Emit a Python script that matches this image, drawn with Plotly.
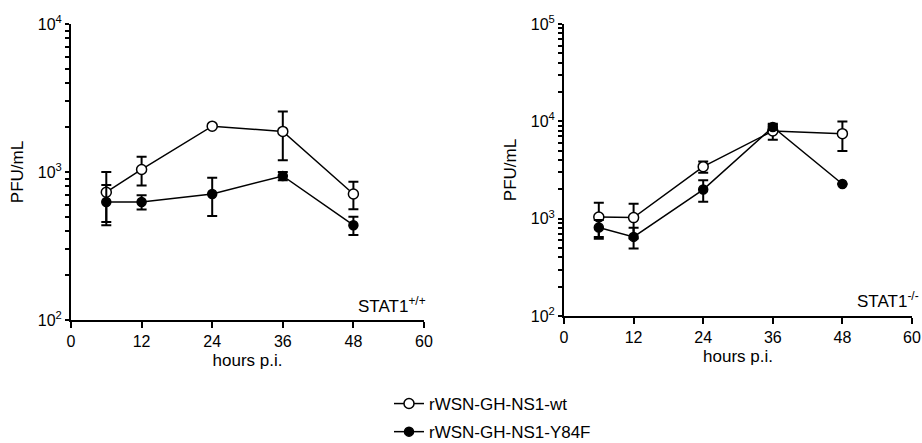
import plotly.graph_objects as go
from plotly.subplots import make_subplots

hours = [6, 12, 24, 36, 48]

# STAT1+/+ panel
wt_pos = [730, 1040, 2040, 1880, 710]
wt_pos_err = [270, 230, 40, 680, 150]
mut_pos = [627, 627, 710, 940, 437]
mut_pos_err = [190, 70, 205, 60, 62]

# STAT1-/- panel
wt_neg = [1040, 1025, 3420, 7960, 7470]
wt_neg_err = [420, 400, 450, 1500, 2500]
mut_neg = [810, 650, 1990, 8750, 2270]
mut_neg_err = [160, 157, 495, 500, 0]

x_ticks = [0, 12, 24, 36, 48, 60]
series_names = ["rWSN-GH-NS1-wt", "rWSN-GH-NS1-Y84F"]
panel_labels = ["STAT1<sup>+/+</sup>", "STAT1<sup>-/-</sup>"]

FONT = "Liberation Sans, Arial, sans-serif"

fig = make_subplots(rows=1, cols=2)

def add_series(col, y, err, name, filled, show):
    fig.add_trace(go.Scatter(
        x=hours, y=y, name=name, mode="lines+markers",
        showlegend=show, legendgroup=name,
        line=dict(color="black", width=1.5),
        marker=dict(symbol="circle", size=10 if not filled else 9,
                    color="black" if filled else "white",
                    line=dict(color="black", width=1.5)),
        error_y=dict(type="data", array=err, visible=True,
                     color="black", thickness=2, width=5),
    ), row=1, col=col)

add_series(1, wt_pos, wt_pos_err, series_names[0], False, True)
add_series(1, mut_pos, mut_pos_err, series_names[1], True, True)
add_series(2, wt_neg, wt_neg_err, series_names[0], False, False)
add_series(2, mut_neg, mut_neg_err, series_names[1], True, False)

def log_ticks(lo, hi):
    vals, text = [], []
    for e in range(lo, hi + 1):
        for m in range(1, 10):
            if e == hi and m > 1:
                break
            vals.append(m * 10 ** e)
            text.append(f"10<sup>{e}</sup>" if m == 1 else "")
    return vals, text

TICKFONT = dict(family=FONT, size=16, color="black")
TITLEFONT = dict(family=FONT, size=17, color="black")

axis_common = dict(showline=True, linecolor="black", linewidth=2,
                   ticks="outside", tickcolor="black",
                   showgrid=False, zeroline=False, tickfont=TICKFONT)

# x axes
fig.update_xaxes(**axis_common, tickwidth=2, ticklen=6, range=[0, 60], tickvals=x_ticks,
                 title=dict(text="hours p.i.", font=TITLEFONT, standoff=5))
fig.layout.xaxis.domain = [71/922, 424/922]
fig.layout.xaxis2.domain = [564/922, 912/922]

# y axes (all decade + minor ticks, labels only at decades)
fig.update_yaxes(**axis_common, tickwidth=1.5, ticklen=4, type="log",
                 title=dict(text="PFU/mL", font=TITLEFONT, standoff=10))
v1, t1 = log_ticks(2, 4)
v2, t2 = log_ticks(2, 5)
fig.update_yaxes(range=[2, 4], tickmode="array", tickvals=v1, ticktext=t1, row=1, col=1)
fig.update_yaxes(range=[2, 5], tickmode="array", tickvals=v2, ticktext=t2, row=1, col=2)
fig.layout.yaxis2.domain = [4/296, 1]

fig.add_annotation(xref="x", yref="y", x=60, y=2, xanchor="right", yanchor="bottom",
                   xshift=4, yshift=2, text=panel_labels[0], showarrow=False,
                   font=TITLEFONT)
fig.add_annotation(xref="x2", yref="y2", x=60, y=2, xanchor="right", yanchor="bottom",
                   xshift=9, yshift=3, text=panel_labels[1], showarrow=False,
                   font=TITLEFONT)

fig.update_layout(
    width=922, height=443,
    margin=dict(l=0, r=0, t=24, b=123, autoexpand=False),
    paper_bgcolor="white", plot_bgcolor="white",
    font=dict(family=FONT, size=16, color="black"),
    legend=dict(xref="paper", yref="paper", x=389/922, y=(320 - 386) / 296,
                xanchor="left", yanchor="top", tracegroupgap=3,
                font=dict(family=FONT, size=17, color="black"),
                bgcolor="rgba(0,0,0,0)", itemwidth=30),
)

fig.write_html("out.html")
